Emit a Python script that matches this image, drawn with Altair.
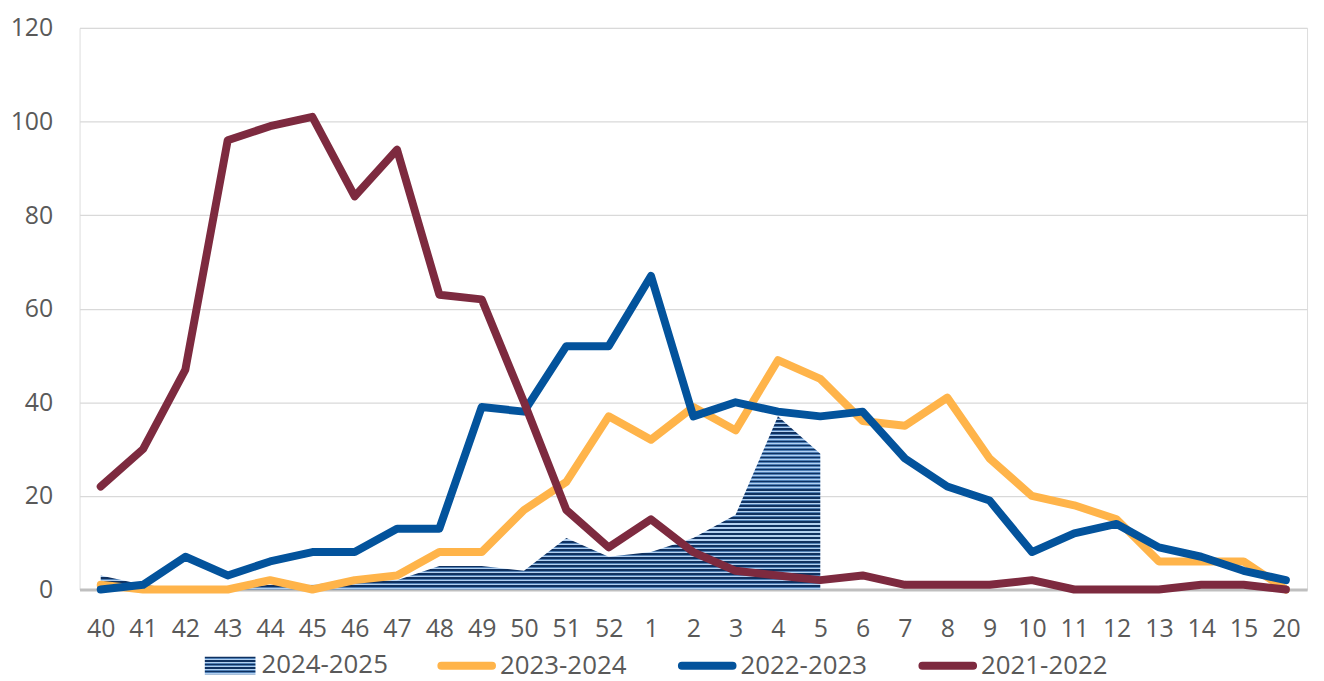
import altair as alt
import pandas as pd

weeks = ["40", "41", "42", "43", "44", "45", "46", "47", "48", "49", "50", "51", "52",
         "1", "2", "3", "4", "5", "6", "7", "8", "9", "10", "11", "12", "13", "14", "15", "20"]
series_names = ["2024-2025", "2023-2024", "2022-2023", "2021-2022"]
s2425 = [3, 1, 0, 0, 1, 1, 2, 2, 5, 5, 4, 11, 7, 8, 11, 16, 37, 29]
s2324 = [1, 0, 0, 0, 2, 0, 2, 3, 8, 8, 17, 23, 37, 32, 39, 34, 49, 45, 36, 35, 41, 28, 20, 18, 15, 6, 6, 6, 0]
s2223 = [0, 1, 7, 3, 6, 8, 8, 13, 13, 39, 38, 52, 52, 67, 37, 40, 38, 37, 38, 28, 22, 19, 8, 12, 14, 9, 7, 4, 2]
s2122 = [22, 30, 47, 96, 99, 101, 84, 94, 63, 62, 40, 17, 9, 15, 8, 4, 3, 2, 3, 1, 1, 1, 2, 0, 0, 0, 1, 1, 0]
line_colors = ["#ffb44a", "#03539c", "#7d2a3f"]
y_ticks = [0, 20, 40, 60, 80, 100, 120]

rows = []
for name, vals in zip(series_names, [s2425, s2324, s2223, s2122]):
    for w, v in zip(weeks, vals):
        rows.append({"week": w, "series": name, "value": v})
df = pd.DataFrame(rows)

FONT = "Open Sans"
TXT = "#595959"
LEG_SIZE = 26


def stripe_stops(periods):
    dark, mid, light = "#0f3160", "#4f7fb5", "#b2d0f0"
    pattern = [(dark, 0.0, 0.42), (mid, 0.42, 0.58), (light, 0.58, 0.86), (mid, 0.86, 1.0)]
    stops = []
    for i in range(periods):
        for c, a, b in pattern:
            stops.append({"color": c, "offset": (i + a) / periods})
            stops.append({"color": c, "offset": min(1.0, (i + b) / periods)})
    return stops


area_fill = {"gradient": "linear", "x1": 0, "y1": 0, "x2": 0, "y2": 1, "stops": stripe_stops(43)}
legend_fill = {"gradient": "linear", "x1": 0, "y1": 0, "x2": 0, "y2": 1, "stops": stripe_stops(5)}

x_enc = alt.X("week:N", sort=weeks, scale=alt.Scale(domain=weeks),
              axis=alt.Axis(title=None, labelAngle=0, ticks=False, grid=False,
                            domainColor="#bfbfbf", domainWidth=3,
                            labelFont=FONT, labelFontSize=25, labelColor=TXT,
                            labelPadding=47, labelBaseline="alphabetic"))
y_enc = alt.Y("value:Q", scale=alt.Scale(domain=[0, 120], nice=False),
              axis=alt.Axis(title=None, values=y_ticks, domain=False, ticks=False,
                            gridColor="#d9d9d9", gridWidth=1.3,
                            labelFont=FONT, labelFontSize=25, labelColor=TXT,
                            labelPadding=27))

rect_path = "M-1,-0.35H1V0.35H-1Z"
h = 0.078
pill_path = (f"M-1,-{h}H1A{h},{h} 0 0 1 1,{h}H-1A{h},{h} 0 0 1 -1,-{h}Z")

area_legend = alt.Legend(
    title=None, orient="none", legendX=126, legendY=616, direction="horizontal",
    symbolSize=2600, symbolType=rect_path, symbolStrokeWidth=0,
    labelFont=FONT, labelFontSize=LEG_SIZE, labelColor=TXT, labelOffset=6, labelLimit=400,
)
line_legend = alt.Legend(
    title=None, orient="none", legendX=362, legendY=614, direction="horizontal",
    columns=3, symbolSize=2600, symbolType=pill_path, symbolStrokeWidth=4,
    labelFont=FONT, labelFontSize=LEG_SIZE, labelColor=TXT, labelOffset=6,
    columnPadding=45, labelLimit=400,
)

base = alt.Chart(df)

area = base.transform_filter(alt.datum.series == "2024-2025").mark_area(
    fill=area_fill, line=False
).encode(x=x_enc, y=y_enc)

area_key = base.transform_filter(alt.datum.value < 0).mark_area(
    fill=legend_fill
).encode(
    x=x_enc, y=y_enc,
    opacity=alt.Opacity("series:N", scale=alt.Scale(domain=series_names[:1], range=[1]),
                        legend=area_legend),
)

color_scale = alt.Scale(domain=series_names[1:], range=line_colors)
lines = []
for name in series_names[1:]:
    ln = base.transform_filter(alt.datum.series == name).mark_line(
        strokeWidth=8, strokeCap="round", strokeJoin="round"
    ).encode(
        x=x_enc, y=y_enc,
        color=alt.Color("series:N", scale=color_scale, legend=line_legend),
    )
    lines.append(ln)

chart = alt.layer(area, area_key, *lines).properties(
    width=1235, height=565,
    autosize=alt.AutoSizeParams(type="none"),
    padding={"left": 72, "top": 18, "right": 9, "bottom": 90},
).configure_view(stroke=None).configure(background="white")

chart.save("out.html", embed_options={"renderer": "svg", "actions": False})
